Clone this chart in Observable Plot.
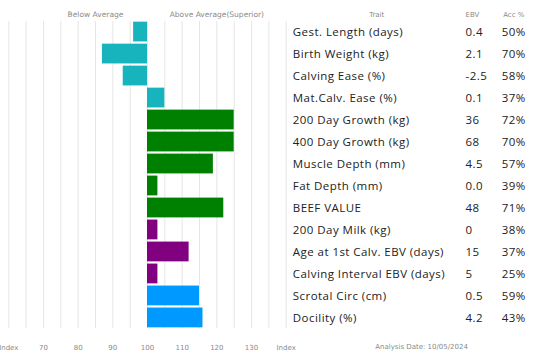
<!DOCTYPE html>
<html>
<head>
<meta charset="utf-8">
<script src="https://cdn.jsdelivr.net/npm/d3@7"></script>
<script src="https://cdn.jsdelivr.net/npm/@observablehq/plot@0.6"></script>
<style>
  html, body { margin: 0; padding: 0; background: #fff; }
  #chart svg { overflow: visible; display: block; }
  #chart g[font-family="Open Sans"] { letter-spacing: 0.45px; }
</style>
</head>
<body>
<div id="chart"></div>
<script>
const traits = [
  "Gest. Length (days)", "Birth Weight (kg)", "Calving Ease (%)", "Mat.Calv. Ease (%)",
  "200 Day Growth (kg)", "400 Day Growth (kg)", "Muscle Depth (mm)", "Fat Depth (mm)",
  "BEEF VALUE", "200 Day Milk (kg)", "Age at 1st Calv. EBV (days)", "Calving Interval EBV (days)",
  "Scrotal Circ (cm)", "Docility (%)"
];
const ebv = ["0.4", "2.1", "-2.5", "0.1", "36", "68", "4.5", "0.0", "48", "0", "15", "5", "0.5", "4.2"];
const acc = ["50%", "70%", "58%", "37%", "72%", "70%", "57%", "39%", "71%", "38%", "37%", "25%", "59%", "43%"];
const indexValues = [96, 87, 93, 105, 125, 125, 119, 103, 122, 103, 112, 103, 115, 116];
const groups = ["calving", "calving", "calving", "calving", "growth", "growth", "growth", "growth", "growth",
  "maternal", "maternal", "maternal", "other", "other"];
const groupColors = { calving: "#18b4bd", growth: "#008000", maternal: "#800080", other: "#0099ff" };
const tickValues = [60, 70, 80, 90, 100, 110, 120, 130, 140];
const gridValues = [60, 65, 70, 75, 80, 85, 90, 95, 100, 105, 110, 115, 120, 125, 130, 135, 140];
const sideLabels = ["Below Average", "Above Average(Superior)"];
const sideLabelIndex = [85, 120];
const baseline = 100;
const analysisDate = "Analysis Date: 10/05/2024";

const data = traits.map((t, i) => ({
  trait: t, ebv: ebv[i], acc: acc[i], index: indexValues[i], color: groupColors[groups[i]]
}));
const sides = sideLabels.map((s, i) => ({ label: s, x: sideLabelIndex[i] }));

const tableX = 140;
const headerFont = { fontFamily: "DejaVu Sans", fontSize: 7, fill: "#8a8a8a" };
const rowFont = { fontFamily: "Open Sans", fontSize: 11.5, fill: "#222" };

const chart = Plot.plot({
  width: 550,
  height: 362,
  marginLeft: 8.3,
  marginRight: 264.3,
  marginTop: 21,
  marginBottom: 34,
  style: { fontFamily: "DejaVu Sans", fontSize: "7px", color: "#8a8a8a", background: "#fff" },
  x: {
    domain: [60, 140],
    ticks: tickValues,
    tickFormat: d => (d === 60 || d === 140) ? "Index" : String(d),
    tickSize: 0,
    tickPadding: 17,
    label: null
  },
  y: { domain: traits, axis: null, paddingInner: 0.1, paddingOuter: 0.03, round: false },
  color: { type: "identity" },
  marks: [
    Plot.ruleX(gridValues, { stroke: "#e6e6e6", strokeWidth: 1 }),
    Plot.barX(data, { x1: baseline, x2: "index", y: "trait", fill: "color" }),
    Plot.text(data, { x: tableX, y: "trait", text: "trait", dx: 6.6, textAnchor: "start", ...rowFont }),
    Plot.text(data, { x: tableX, y: "trait", text: "ebv", dx: 179.3, textAnchor: "start", ...rowFont }),
    Plot.text(data, { x: tableX, y: "trait", text: "acc", dx: 215.5, textAnchor: "start", ...rowFont }),
    Plot.text(sides, { x: "x", text: "label", frameAnchor: "top", dy: -9.5, ...headerFont, fontSize: 7.5 }),
    Plot.text(["Trait"], { x: tableX, text: d => d, frameAnchor: "top", dx: 90.5, dy: -9.5, textAnchor: "middle", ...headerFont }),
    Plot.text(["EBV"], { x: tableX, text: d => d, frameAnchor: "top", dx: 179.3, dy: -9.5, textAnchor: "start", ...headerFont }),
    Plot.text(["Acc %"], { x: tableX, text: d => d, frameAnchor: "top", dx: 217, dy: -9.5, textAnchor: "start", ...headerFont }),
    Plot.text([analysisDate], { x: tableX, text: d => d, frameAnchor: "bottom", dy: 20.5, dx: 89, textAnchor: "start", ...headerFont })
  ]
});
document.getElementById("chart").appendChild(chart);
</script>
</body>
</html>
